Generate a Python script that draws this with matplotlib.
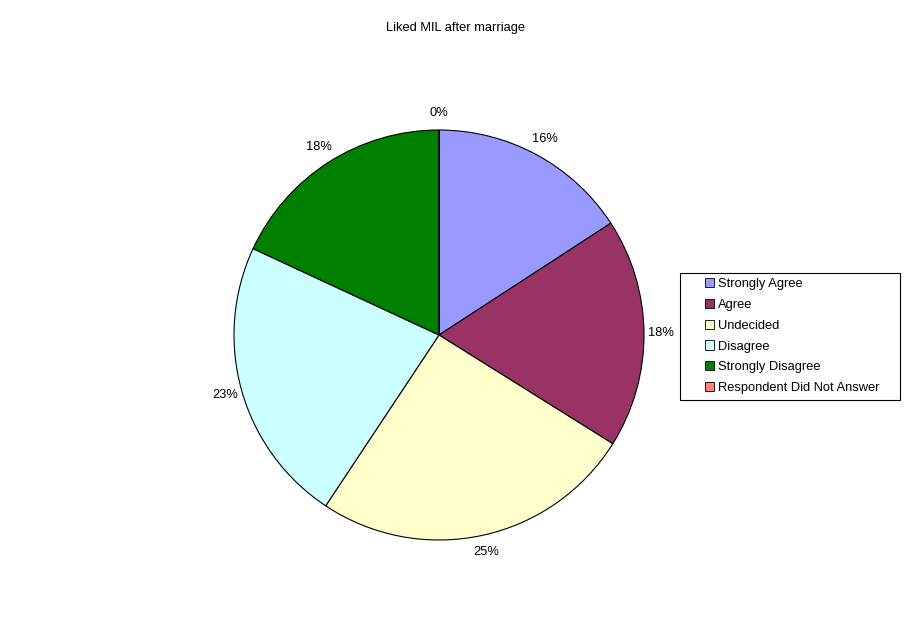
import matplotlib
matplotlib.use("Agg")
import matplotlib.pyplot as plt
from matplotlib.patches import Patch, Rectangle

plt.rcParams['font.family'] = ['Liberation Sans', 'DejaVu Sans']

title = "Liked MIL after marriage"
categories = ["Strongly Agree", "Agree", "Undecided", "Disagree",
              "Strongly Disagree", "Respondent Did Not Answer"]
values = [28, 32, 45, 40, 32, 0]
colors = ["#9999FF", "#993366", "#FFFFCC", "#CCFFFF", "#008000", "#FF8080"]

W, H = 912, 624
fig = plt.figure(figsize=(W / 100, H / 100), dpi=100)
fig.patch.set_facecolor("white")

R = 205
cx, cy = 439, H - 335
ax = fig.add_axes([(cx - R) / W, (cy - R) / H, 2 * R / W, 2 * R / H])
wedges, texts, autotexts = ax.pie(
    values, colors=colors, startangle=90, counterclock=False,
    autopct=lambda p: f"{p:.0f}%", pctdistance=1.085,
    wedgeprops=dict(edgecolor="black", linewidth=0.8),
    textprops=dict(fontsize=9.3, color="black"))
ax.set_xlim(-1, 1)
ax.set_ylim(-1, 1)
ax.set_aspect("equal")
ax.axis("off")

fig.text(456 / W, 1 - 28 / H, title, ha="center", va="center", fontsize=9.3)

# legend frame
fig.patches.append(Rectangle((680 / W, 1 - 400 / H), 220 / W, 127 / H,
                             transform=fig.transFigure, facecolor="white",
                             edgecolor="black", linewidth=0.8, zorder=1))

handles = [Patch(facecolor=c, edgecolor="black", linewidth=0.6) for c in colors]
leg = fig.legend(handles, categories, loc="upper left",
                 bbox_to_anchor=(705 / W, 1 - 278 / H),
                 fontsize=9.3, frameon=False,
                 handlelength=0.7, handleheight=0.7, handletextpad=0.3,
                 labelspacing=0.68, borderpad=0, borderaxespad=0)
leg.set_zorder(2)

fig.savefig("out.png", dpi=100, facecolor="white")
